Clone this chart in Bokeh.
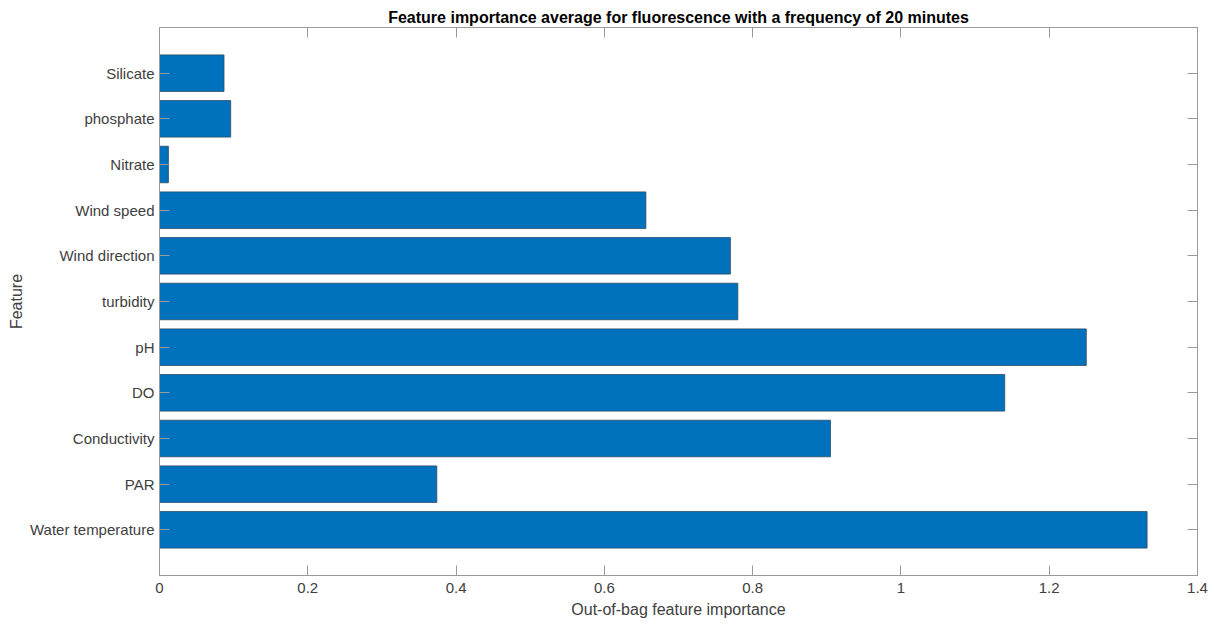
from bokeh.plotting import figure
from bokeh.models import LinearAxis, FixedTicker, Range1d, ColumnDataSource
from bokeh.embed import file_html
from bokeh.resources import INLINE

features = ["Water temperature", "PAR", "Conductivity", "DO", "pH", "turbidity",
            "Wind direction", "Wind speed", "Nitrate", "phosphate", "Silicate"]
importance = [1.332, 0.374, 0.905, 1.140, 1.250, 0.780, 0.770, 0.656, 0.012, 0.096, 0.087]
x_ticks = [0, 0.2, 0.4, 0.6, 0.8, 1.0, 1.2, 1.4]
x_tick_labels = ["0", "0.2", "0.4", "0.6", "0.8", "1", "1.2", "1.4"]

pos = list(range(1, len(features) + 1))
src = ColumnDataSource(dict(y=pos, right=importance))

FONT = "Liberation Sans"
AX = "#9a9a9a"
TXT = "#404040"

p = figure(width=1218, height=625, output_backend="svg", toolbar_location=None,
           x_range=Range1d(0, 1.4), y_range=Range1d(0, len(features) + 1),
           min_border_left=159, min_border_right=21, min_border_top=27, min_border_bottom=50,
           x_axis_location="below", y_axis_location="left")
p.grid.visible = False
p.outline_line_color = AX
p.outline_line_width = 1

p.title.text = "Feature importance average for fluorescence with a frequency of 20 minutes"
p.title.align = "center"
p.title.text_font = FONT
p.title.text_font_size = "16px"
p.title.text_font_style = "bold"
p.title.text_color = "#000000"
p.title.standoff = 3

p.hbar(y="y", right="right", left=0, height=0.8, source=src,
       fill_color="#0072BD", line_color="#2a4a66", line_width=0.8)

xa = p.xaxis[0]
xa.ticker = FixedTicker(ticks=x_ticks)
xa.major_label_overrides = {t: l for t, l in zip(x_ticks, x_tick_labels)}
xa.axis_label = "Out-of-bag feature importance"

ya = p.yaxis[0]
ya.ticker = FixedTicker(ticks=pos)
ya.major_label_overrides = {i: f for i, f in zip(pos, features)}
ya.axis_label = "Feature"

for ax in (xa, ya):
    ax.axis_line_color = AX
    ax.major_tick_line_color = AX
    ax.major_tick_in = 10
    ax.major_tick_out = 0
    ax.minor_tick_line_color = None
    ax.major_label_text_font = FONT
    ax.major_label_text_font_size = "15px"
    ax.major_label_text_color = TXT
    ax.axis_label_text_font = FONT
    ax.axis_label_text_font_size = "16px"
    ax.axis_label_text_font_style = "normal"
    ax.axis_label_text_color = TXT

xa.major_label_standoff = 7
xa.axis_label_standoff = 5
ya.major_label_standoff = 5
ya.axis_label_standoff = 2

top = LinearAxis(ticker=FixedTicker(ticks=x_ticks))
right = LinearAxis(ticker=FixedTicker(ticks=pos), y_range_name="default")
for ax in (top, right):
    ax.axis_line_color = AX
    ax.major_tick_line_color = AX
    ax.major_tick_in = 10
    ax.major_tick_out = 0
    ax.minor_tick_line_color = None
    ax.major_label_text_font_size = "0px"
    ax.major_label_standoff = 0
    ax.major_label_text_color = None
p.add_layout(top, "above")
p.add_layout(right, "right")

open("out.html", "w").write(file_html(p, INLINE))
